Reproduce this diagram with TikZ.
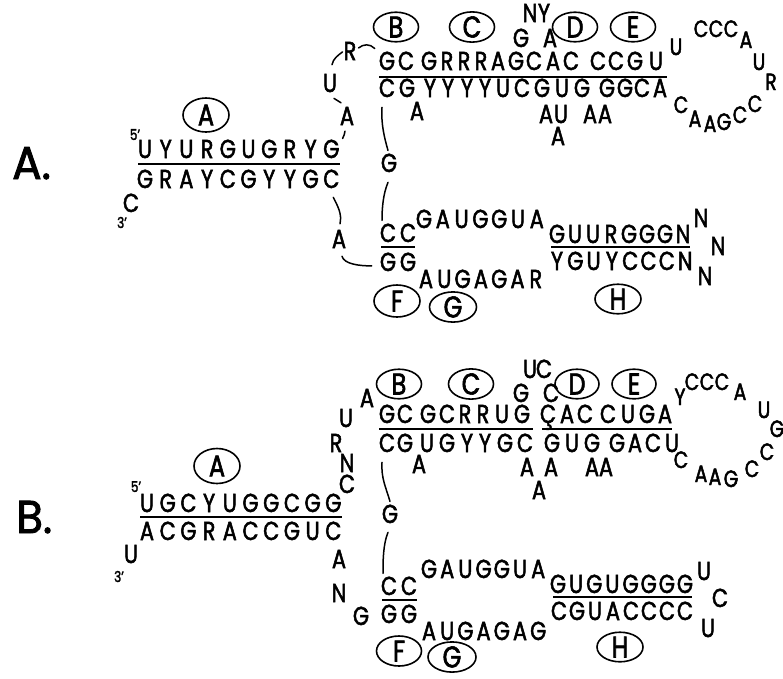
\documentclass[tikz,border=0pt]{standalone}
\usepackage{fontspec}
\usetikzlibrary{shapes.geometric}
\newfontfamily\seqf{Poppins}[FakeStretch=0.8,FakeBold=2]
\newfontfamily\labf{Poppins}[FakeStretch=0.95,FakeBold=2]
\newcommand\sq{\seqf\fontsize{26}{26}\selectfont}
\newcommand\sqs{\seqf\fontsize{23.5}{23.5}\selectfont}
\newcommand\cirf{\seqf\fontsize{30}{30}\selectfont}
\newcommand\primef{\seqf\fontsize{15}{15}\selectfont}
\newcommand\labfs{\labf\fontsize{46}{46}\selectfont}
% row with explicit x positions: name, baseline y, list letter/x
\newcommand\rowx[3]{\foreach \ch/\xx [count=\i] in {#3} {\node[nt] (#1\i) at (\xx,#2) {\ch};}}
% row with uniform pitch: name, x0, pitch, baseline y, list
\newcommand\rowu[5]{\foreach \ch [count=\i] in {#5} {\node[nt] (#1\i) at ({#2+(\i-1)*#3},#4) {\ch};}}
% loose letters: name, list letter/x/y
\newcommand\loose[3][nt]{\foreach \ch/\xx/\yy [count=\i] in {#3} {\node[#1] (#2\i) at (\xx,\yy) {\ch};}}
\tikzset{
  nt/.style={font=\sq, inner sep=0pt, anchor=base},
  lp/.style={font=\sqs, inner sep=0pt, anchor=base},
  pr/.style={font=\primef, inner sep=0pt, anchor=base},
  stem/.style={line width=2.6pt},
  conn/.style={line width=1.5pt, line cap=round},
  circ/.style={draw, ellipse, line width=1.6pt, inner sep=0pt, font=\cirf},
}
\begin{document}
\begin{tikzpicture}[x=1pt,y=-1pt]
\useasboundingbox (0,0) rectangle (783,678);

%%%%%%%%%%%%%%%%%%%%%%%%%%%%%%%% PANEL A
\node[font=\labfs, inner sep=0pt, anchor=base west] (labA) at (12,179) {A.};
\node[circ, minimum width=46pt, minimum height=34pt] (aCA) at (206,115) {A};
\node[pr] (a5) at (135,140) {5’};
\node[pr] (a3) at (122,228) {3’};
\node[nt] (a3C) at (131,212) {C};
\rowu{aL}{145}{20.7}{158}{U,Y,U,R,G,U,G,R,Y,G}
\rowu{aB}{145}{20.7}{188}{G,R,A,Y,C,G,Y,Y,G,C}
\draw[stem] (138,164) -- (340,164);

\rowx{aT}{70}{G/387,C/406,G/429,R/447,R/464,R/481,A/498,G/516,C/534,A/553,C/571,C/598,C/616,G/635,U/656}
\rowx{aBt}{97}{C/387,G/407,Y/430,Y/448,Y/467,Y/485,U/503,C/522,G/542,U/562,G/582,G/607,G/625,C/642,A/660}
\draw[stem] (379,77) -- (667,77);

\loose[lp]{aLp}{U/676/55,C/701/37,C/716/37,C/731/37,A/746/48,U/759/70,R/771/90,C/755/112,C/740/123,G/724/130,A/710/132,A/695/127,C/681/113}
\loose{aX}{A/417/120,A/546/123,U/561/123,A/590/123,A/605/123,A/558/145,N/530/22,Y/544/22,G/521/47,A/550/47}

\node[circ, minimum width=45pt, minimum height=27pt] (aCB) at (396,27) {B};
\node[circ, minimum width=45pt, minimum height=27pt] (aCC) at (472,27) {C};
\node[circ, minimum width=45pt, minimum height=27pt] (aCD) at (575,27) {D};
\node[circ, minimum width=45pt, minimum height=27pt] (aCE) at (633,27) {E};

\node[nt] (aR) at (350,60) {R};
\node[nt] (aU) at (330,92) {U};
\node[nt] (aA1) at (347,125) {A};
\node[nt] (aA2) at (339,248) {A};
\node[nt] (aG) at (389,172) {G};

\rowx{aCC}{242}{C/388,C/408}
\rowx{aGG}{271}{G/388,G/408}
\draw[stem] (381,247) -- (415,247);
\rowu{aSp}{424}{18.8}{228}{G,A,U,G,G,U,A}
\rowu{aSb}{426}{18.3}{288}{A,U,G,A,G,A,R}
\rowu{aHt}{557}{18}{243}{G,U,U,R,G,G,G,N}
\rowu{aHb}{557}{18.3}{270}{Y,G,U,Y,C,C,C,N}
\draw[stem] (551,247) -- (690,247);
\loose{aN}{N/701/227,N/718/255,N/705/285}
\node[circ, minimum width=46pt, minimum height=32pt] (aCF) at (397,301) {F};
\node[circ, minimum width=47pt, minimum height=30pt] (aCG) at (453,307) {G};
\node[circ, minimum width=46pt, minimum height=28pt] (aCH) at (618,299) {H};

% connectors panel A
\draw[conn] ([shift={(3,-1)}]aL10.north east) .. controls +(2,-3) and +(-1,3) .. ([shift={(-2,6)}]aA1.south);
\draw[conn] ([shift={(4,6)}]aU.south) -- ([shift={(-6,-4)}]aA1.north);
\draw[conn] ([shift={(2,-9)}]aU.north) .. controls +(1,-6) and +(-4,3) .. ([shift={(-1,1)}]aR.west);
\draw[conn] ([shift={(2,-3)}]aR.east) .. controls +(5,-4) and +(-5,-5) .. ([shift={(-4,-3)}]aT1.north west);
\draw[conn] ([shift={(2,9)}]aB10.south) .. controls +(5,10) and +(2,-10) .. ([shift={(1,-6)}]aA2.north);
\draw[conn] ([shift={(3,8)}]aA2.south) .. controls +(2,8) and +(-12,0) .. ([shift={(-8,4)}]aGG1.west);
\draw[conn] ([shift={(-5,10)}]aBt1.south) .. controls +(-1,16) and +(-4,-14) .. ([shift={(-1,-3)}]aG.north);
\draw[conn] ([shift={(-1,10)}]aG.south) .. controls +(-5,12) and +(0,-12) .. ([shift={(-6,-3)}]aCC1.north);

%%%%%%%%%%%%%%%%%%%%%%%%%%%%%%%% PANEL B
\node[font=\labfs, inner sep=0pt, anchor=base west] (labB) at (16,533) {B.};
\node[circ, minimum width=46pt, minimum height=35pt] (bCA) at (217,466) {A};
\node[pr] (b5) at (136,492) {5’};
\node[pr] (b3) at (119,582) {3’};
\node[nt] (b3U) at (131,563) {U};
\rowu{bL}{147}{20.7}{512}{U,G,C,Y,U,G,G,C,G,G}
\rowu{bB}{147}{20.7}{540}{A,C,G,R,A,C,C,G,U,C}
\draw[stem] (140,517) -- (342,517);
\loose{bl}{A/367/407,U/346/427,R/336/452,N/347/472,C/347/493,A/339/568,N/339/602,G/361/625}

\rowx{bT}{423}{G/387,C/405,G/428,C/447,R/465,R/483,U/502,G/522,Ç/548,A/567,C/585,C/608,U/628,G/647,A/665}
\rowx{bBt}{452}{C/387,G/405,U/427,G/447,Y/467,Y/485,G/505,C/525,G/552,U/572,G/592,G/617,A/635,C/653,U/672}
\draw[stem] (379,429) -- (533,429);
\draw[stem] (542,429) -- (672,429);

\node[circ, minimum width=45pt, minimum height=28pt] (bCB) at (399,384) {B};
\node[circ, minimum width=45pt, minimum height=28pt] (bCC) at (471,384) {C};
\node[circ, minimum width=44pt, minimum height=28pt] (bCD) at (577,384) {D};
\node[circ, minimum width=44pt, minimum height=28pt] (bCE) at (634,384) {E};
\loose{bX}{U/530/378,C/544/378,G/521/402,C/551/402,A/419/473,A/527/476,A/551/476,A/592/476,A/606/476,A/539/499}
\loose[lp]{bLp}{Y/680/405,C/692/390,C/707/390,C/722/390,A/740/400,U/764/418,G/777/437,C/767/460,C/752/477,G/731/487,A/715/485,A/701/482,C/681/468}

\node[nt] (bG) at (390,523) {G};
\rowx{bCC}{595}{C/389,C/409}
\rowx{bGG}{623}{G/389,G/409}
\draw[stem] (382,600) -- (417,600);
\rowu{bSp}{429}{18.2}{578}{G,A,U,G,G,U,A}
\rowu{bSb}{429}{18.2}{640}{A,U,G,A,G,A,G}
\rowu{bHt}{558}{18.14}{593}{G,U,G,U,G,G,G,G}
\rowu{bHb}{559}{18}{620}{C,G,U,A,C,C,C,C}
\draw[stem] (553,597) -- (692,597);
\loose{bU}{U/704/580,C/720/607,U/708/637}
\node[circ, minimum width=45pt, minimum height=30pt] (bCF) at (399,651) {F};
\node[circ, minimum width=48pt, minimum height=28pt] (bCG) at (452,657) {G};
\node[circ, minimum width=46pt, minimum height=29pt] (bCH) at (620,647) {H};

% connectors panel B
\draw[conn] ([shift={(-5,10)}]bBt1.south) .. controls +(-1,16) and +(-4,-14) .. ([shift={(0,-3)}]bG.north);
\draw[conn] ([shift={(-2,9)}]bG.south) .. controls +(-5,12) and +(0,-12) .. ([shift={(-6,-3)}]bCC1.north);
\end{tikzpicture}
\end{document}
